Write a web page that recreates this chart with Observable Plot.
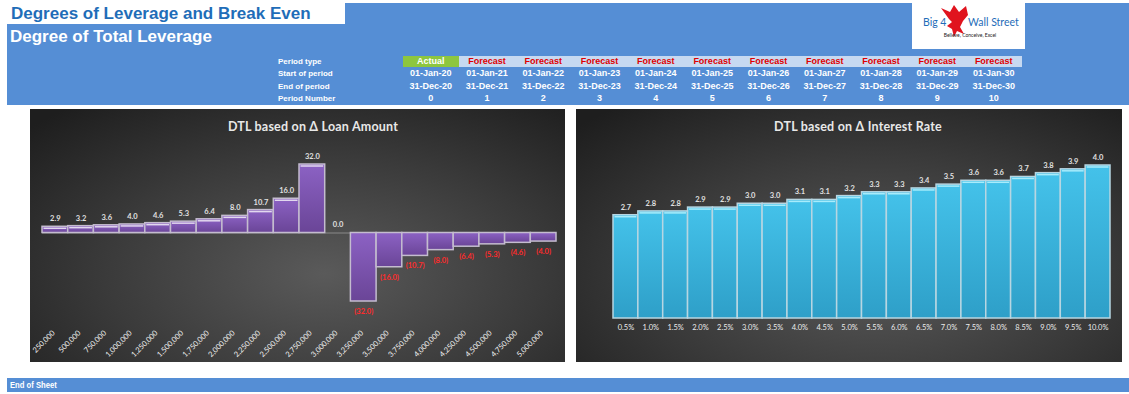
<!DOCTYPE html>
<html><head><meta charset="utf-8">
<script src="https://cdn.jsdelivr.net/npm/d3@7"></script>
<script src="https://cdn.jsdelivr.net/npm/@observablehq/plot@0.6"></script>
<style>
body{margin:0;background:#fff;width:1129px;height:394px;position:relative;overflow:hidden;font-family:"Liberation Sans",Arial,sans-serif;}
.abs{position:absolute;}
#band{left:7px;top:3px;width:1122px;height:102px;background:#558ED5;}
#title1{left:7px;top:3px;width:338px;height:21px;background:#fff;color:#1F6DB8;font-weight:bold;font-size:17px;line-height:21px;padding-left:4px;box-sizing:border-box;white-space:nowrap;}
#title2{left:10px;top:26px;color:#fff;font-weight:bold;font-size:17px;line-height:21px;white-space:nowrap;}
.lbl{left:278px;color:#fff;font-weight:bold;font-size:8px;line-height:10px;white-space:nowrap;}
.cell{color:#fff;font-weight:bold;font-size:9px;line-height:11px;text-align:center;white-space:nowrap;}
#logo{left:912px;top:3px;width:113px;height:46px;background:#fff;}
.panel{top:109px;height:253px;background:radial-gradient(ellipse 75% 85% at 55% 65%, #5a5a5a 0%, #3a3a3a 55%, #1e1e1e 100%);}
.ptitle{top:10px;color:#e8e8e8;font-family:Lato,"Open Sans",sans-serif;font-weight:bold;font-size:12.5px;letter-spacing:0.2px;line-height:16px;white-space:nowrap;transform:translateX(-50%);}
#endbar{left:7px;top:378px;width:1122px;height:14px;background:#558ED5;color:#fff;font-weight:bold;font-size:9px;line-height:14px;}
#endbar span{display:inline-block;margin-left:3px;font-family:"Liberation Sans Narrow","Liberation Sans",Arial,sans-serif;transform:scaleX(0.85);transform-origin:left;}
</style></head>
<body>
<div class="abs" id="band"></div>
<div class="abs" id="title1">Degrees of Leverage and Break Even</div>
<div class="abs" id="title2">Degree of Total Leverage</div>
<div id="hdr"></div>
<div class="abs" id="logo">
<svg width="113" height="46" viewBox="0 0 113 46">
<text x="11" y="23" font-family="Lato,'Open Sans',sans-serif" font-size="10.5" fill="#1F6DB8">Big 4</text>
<path d="M37,16 L29,5 L38,9 L42,2 L47,9 L54,3 L56,12 L51,18 L48,24 L52,31 L45,28 L42,34 L40,26 L35,23 L40,19 Z" fill="#E0141E"/>
<text x="56" y="23" font-family="Lato,'Open Sans',sans-serif" font-size="10.5" fill="#1F6DB8">Wall Street</text>
<text x="58" y="34" text-anchor="middle" font-family="Lato,'Open Sans',sans-serif" font-size="5" fill="#222">Believe, Conceive, Excel</text>
</svg></div>
<div class="abs panel" id="p1" style="left:30px;width:535px;"><div class="abs ptitle" style="left:283px;">DTL based on Δ Loan Amount</div></div>
<div class="abs panel" id="p2" style="left:576px;width:546px;"><div class="abs ptitle" style="left:282px;">DTL based on Δ Interest Rate</div></div>
<div class="abs" id="endbar"><span>End of Sheet</span></div>
<script>
// Header table data
const rowLabels = ["Period type","Start of period","End of period","Period Number"];
const periodTypes = ["Actual","Forecast","Forecast","Forecast","Forecast","Forecast","Forecast","Forecast","Forecast","Forecast","Forecast"];
const startDates = ["01-Jan-20","01-Jan-21","01-Jan-22","01-Jan-23","01-Jan-24","01-Jan-25","01-Jan-26","01-Jan-27","01-Jan-28","01-Jan-29","01-Jan-30"];
const endDates = ["31-Dec-20","31-Dec-21","31-Dec-22","31-Dec-23","31-Dec-24","31-Dec-25","31-Dec-26","31-Dec-27","31-Dec-28","31-Dec-29","31-Dec-30"];
const periodNumbers = [0,1,2,3,4,5,6,7,8,9,10];

// Chart data
const loanAmounts = ["250,000","500,000","750,000","1,000,000","1,250,000","1,500,000","1,750,000","2,000,000","2,250,000","2,500,000","2,750,000","3,000,000","3,250,000","3,500,000","3,750,000","4,000,000","4,250,000","4,500,000","4,750,000","5,000,000"];
const dtlLoan = [2.9,3.2,3.6,4.0,4.6,5.3,6.4,8.0,10.7,16.0,32.0,0.0,-32.0,-16.0,-10.7,-8.0,-6.4,-5.3,-4.6,-4.0];
const interestRates = ["0.5%","1.0%","1.5%","2.0%","2.5%","3.0%","3.5%","4.0%","4.5%","5.0%","5.5%","6.0%","6.5%","7.0%","7.5%","8.0%","8.5%","9.0%","9.5%","10.0%"];
const dtlRate = [2.7,2.8,2.8,2.9,2.9,3.0,3.0,3.1,3.1,3.2,3.3,3.3,3.4,3.5,3.6,3.6,3.7,3.8,3.9,4.0];

// Build header
const hdr = document.getElementById("hdr");
const rowY = [56, 68, 81, 93];
rowLabels.forEach((t,i)=>{
  const d=document.createElement("div"); d.className="abs lbl"; d.style.top=(rowY[i]+1)+"px"; d.textContent=t; hdr.appendChild(d);
});
const colW = 56.3, col0 = 402.5;
periodTypes.forEach((t,i)=>{
  const left = col0 + i*colW;
  const bg=document.createElement("div"); bg.className="abs";
  Object.assign(bg.style,{left:left+"px",top:"56px",width:(colW+0.5)+"px",height:"11px",background:t==="Actual"?"#8DC63F":"#C6D9F1"});
  hdr.appendChild(bg);
  const rows=[t,startDates[i],endDates[i],String(periodNumbers[i])];
  rows.forEach((v,r)=>{
    const c=document.createElement("div"); c.className="abs cell";
    Object.assign(c.style,{left:left+"px",top:rowY[r]+"px",width:colW+"px"});
    if(r===0) c.style.color = t==="Actual"?"#fff":"#E00000";
    c.textContent=v; hdr.appendChild(c);
  });
});

function defs(){
  const g = d3.create("svg:g");
  const df = g.append("defs");
  const p = df.append("linearGradient").attr("id","gPurple").attr("x1",0).attr("y1",0).attr("x2",0).attr("y2",1);
  p.append("stop").attr("offset","0%").attr("stop-color","#8C62C4");
  p.append("stop").attr("offset","100%").attr("stop-color","#6A4597");
  const c = df.append("linearGradient").attr("id","gCyan").attr("x1",0).attr("y1",0).attr("x2",0).attr("y2",1);
  c.append("stop").attr("offset","0%").attr("stop-color","#44C2EA");
  c.append("stop").attr("offset","100%").attr("stop-color","#2E9FC8");
  return g.node();
}

const font = "Lato, 'Open Sans', sans-serif";
const loanRows = loanAmounts.map((c,i)=>({cat:c, v:dtlLoan[i]}));
const rateRows = interestRates.map((c,i)=>({cat:c, v:dtlRate[i]}));

const chart1 = Plot.plot({
  width:535, height:253, marginTop:55, marginBottom:61, marginLeft:12, marginRight:9,
  x:{type:"band", domain:loanAmounts, padding:0, round:false, axis:null},
  y:{domain:[-32,32], axis:null},
  style:{background:"transparent", overflow:"visible", fontFamily:font},
  marks:[
    defs,
    Plot.ruleY([0], {stroke:"#8a8a8a", strokeWidth:1}),
    Plot.barY(loanRows.filter(d=>d.v!==0), {x:"cat", y:"v", fill:"url(#gPurple)", stroke:"#c4bccf", strokeWidth:1.5}),
    Plot.tickY(loanRows.filter(d=>d.v>0), {x:"cat", y:"v", stroke:"#e2d8ef", strokeWidth:1.5, dy:1.5, inset:1.5}),
    Plot.text(loanRows.filter(d=>d.v>=0), {x:"cat", y:"v", text:d=>d.v.toFixed(1), dy:-8, fill:"#e0e0e0", fontSize:7.5, fontWeight:"bold"}),
    Plot.text(loanRows.filter(d=>d.v<0), {x:"cat", y:"v", text:d=>"("+Math.abs(d.v).toFixed(1)+")", dy:10, fill:"#ff2b2b", fontSize:7.5, fontWeight:"bold"}),
    Plot.text(loanRows, {x:"cat", frameAnchor:"bottom", text:"cat", rotate:-45, textAnchor:"end", dy:32, fill:"#f2f2f2", fontSize:7.5})
  ]
});
document.getElementById("p1").appendChild(chart1);
chart1.style.position="absolute"; chart1.style.left="0"; chart1.style.top="0";

const chart2 = Plot.plot({
  width:546, height:253, marginTop:56, marginBottom:44, marginLeft:37, marginRight:12,
  x:{type:"band", domain:interestRates, padding:0, round:false, axis:null},
  y:{domain:[0,4], axis:null},
  style:{background:"transparent", overflow:"visible", fontFamily:font},
  marks:[
    defs,
    Plot.barY(rateRows, {x:"cat", y:"v", fill:"url(#gCyan)", stroke:"#b7d6e2", strokeWidth:1.5}),
    Plot.tickY(rateRows, {x:"cat", y:"v", stroke:"#a8ecfb", strokeWidth:1.5, dy:1.5, inset:1.5}),
    Plot.text(rateRows, {x:"cat", y:"v", text:d=>d.v.toFixed(1), dy:-8, fill:"#e0e0e0", fontSize:7.5, fontWeight:"bold"}),
    Plot.text(rateRows, {x:"cat", frameAnchor:"bottom", text:"cat", dy:11, fill:"#ececec", fontSize:7.5})
  ]
});
document.getElementById("p2").appendChild(chart2);
chart2.style.position="absolute"; chart2.style.left="0"; chart2.style.top="0";
</script>
</body></html>
